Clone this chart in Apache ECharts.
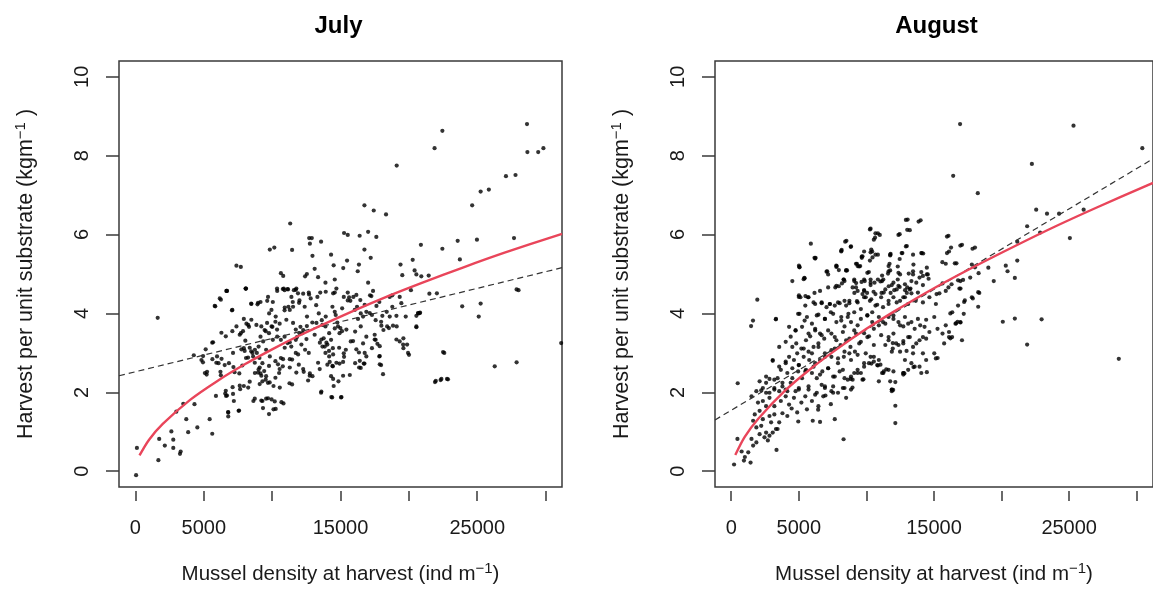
<!DOCTYPE html>
<html><head><meta charset="utf-8">
<script src="https://cdn.jsdelivr.net/npm/echarts@6/dist/echarts.min.js"></script>
<style>html,body{margin:0;padding:0;background:#fff}#c{width:1153px;height:592px}</style>
</head><body><div id="c"></div>
<script>
// ---------- data ----------
const panelTitles = ['July', 'August'];
const xTickValues = [0, 5000, 10000, 15000, 20000, 25000, 30000];
const xLabelValues = [0, 5000, 15000, 25000];
const yTickValues = [0, 2, 4, 6, 8, 10];

const julyPoints = [
[28640,8.80],[22450,8.63],[21880,8.19],[28670,8.09],[29460,8.09],[29840,8.19],[19110,7.75],[27100,7.48],[27800,7.51],[25250,7.09],[25850,7.14],[24630,6.74],[16750,6.74],[17430,6.61],[18330,6.51],[11320,6.28],[24980,5.87],[27690,5.91],[23570,5.84],[22450,5.64],[23730,5.37],[20880,5.74],[20280,5.36],[19390,5.24],[19520,4.97],[20420,5.09],[20550,4.99],[20910,4.94],[21450,4.96],[15260,6.04],[15530,5.99],[16400,5.97],[17020,6.07],[17620,5.94],[16750,5.62],[17210,5.41],[15480,5.34],[16350,5.24],[16260,5.07],[15200,5.15],[14500,5.22],[14310,5.49],[13580,5.82],[12710,5.91],[12900,5.91],[12760,5.77],[12950,5.46],[13110,5.13],[12540,5.00],[13360,4.92],[12410,4.94],[13900,4.78],[14580,4.86],[17020,4.78],[11460,5.61],[9830,5.62],[10160,5.67],[7390,5.21],[7710,5.18],[10640,5.02],[10810,4.95],[8060,4.63],[6650,4.57],[10370,4.57],[10780,4.62],[11130,4.62],[11590,4.59],[12680,4.53],[13520,4.53],[14580,4.53],[15530,4.53],[22050,4.51],[27880,4.61],
[50,-0.10],[110,0.59],[1630,3.89],[1680,0.28],[1740,0.82],[2150,0.65],[2630,1.01],[2770,0.80],[2770,0.59],[3260,0.44],[3310,0.50],[2990,1.51],[3500,1.71],[4320,1.70],[3720,1.32],[3860,0.99],[4530,1.11],[5430,1.32],[5620,0.95],[4940,2.76],[5080,2.49],[5210,2.45],[5620,3.26],[5840,4.18],[6250,4.35],[6680,4.57],[7060,4.08],[5970,2.91],[6080,2.74],[6300,2.85],[6250,2.43],[5890,1.91],[6570,1.97],[6630,1.91],[6790,1.49],[6790,1.39],[7200,1.78],[7550,1.53],[7110,2.13],[7660,2.08],[7930,2.16],[8250,2.12],[8630,1.78],[9290,1.78],[9560,1.84],[9960,1.82],[9770,1.45],[10100,1.57],[10830,1.72],[10560,2.12],[11270,2.23],[11460,2.20],[6840,2.74],[7170,2.64],[7250,2.51],[7600,2.48],[7820,2.68],[8090,2.87],[7930,3.12],[8040,3.31],[7710,3.50],[7930,3.86],[8250,3.71],[8470,4.25],[8930,4.23],[9150,4.29],[9640,4.32],[10050,4.29],[8090,4.63],
[8470,3.04],[8740,3.08],[8880,3.00],[9010,3.16],[8610,2.91],[9070,2.87],[9290,2.74],[9010,2.58],[8740,2.49],[9150,2.48],[9420,2.54],[9560,2.41],[9290,2.28],[9690,2.24],[10100,2.16],[10240,2.37],[10510,2.49],[10780,2.66],[10640,2.87],[10240,2.79],[9830,2.91],[9560,3.08],[9340,3.29],[9150,3.41],[9450,3.58],[9770,3.50],[9960,3.67],[10240,3.79],[10050,3.33],[10370,3.41],[10640,3.33],[10910,3.41],[11130,3.25],[11400,3.16],[11730,3.33],[12000,3.50],[12270,3.58],[12540,3.68],[12140,3.21],[12410,3.08],[12680,3.00],[11730,3.00],[11460,2.83],[11950,2.70],[12270,2.59],[12760,2.48],[12950,2.41],
[10910,4.08],[11190,4.17],[11510,4.29],[12000,4.33],[12270,4.50],[11730,4.60],[10910,4.59],[12820,4.38],[13220,4.21],[13410,4.00],[13630,3.83],[13900,3.67],[14170,3.50],[13770,3.37],[13490,3.26],[13680,3.16],[14040,3.21],[14310,3.33],[14440,3.12],[13900,3.00],[14170,2.91],[14580,3.62],[14770,3.77],[14990,3.63],[14930,3.50],[15120,4.13],[14580,4.04],[15530,4.33],[15940,4.42],[16210,4.17],[16480,4.00],[16890,4.04],[17300,3.96],[17570,3.83],[17970,3.79],[18380,4.04],[18790,4.17],[19110,3.67],[18540,3.63],[18140,3.58],[17570,3.33],[17700,3.23],[17300,3.12],[16890,3.41],[16480,3.67],[16070,3.54],[15750,3.29],[15390,3.08],[15260,2.90],[14930,2.73],[14440,2.66],[14040,2.70],[14310,2.41],[14500,2.16],[14850,2.28],[13580,1.99],[14390,1.87],[15040,1.87],[16480,2.62],[16750,2.73],[16890,2.91],[16350,3.01],[16070,2.74],[17840,2.91],[17970,2.69],[19330,3.29],[19600,3.12],[19870,3.21],[20010,2.95],[19600,3.37],[20690,4.00],[20820,4.02],[20550,3.65],[21500,4.50],[23900,4.18],[25250,4.25],[25110,3.92],[22590,3.00],[21910,2.26],[22320,2.31],[22860,2.33],[26280,2.66],[27880,2.76],[28020,4.59],[31140,3.25],[18790,4.46],[17160,4.46],[17840,4.29],[19330,4.42],[20150,4.59],
[6700,4.57],[8070,4.63],[5800,4.19],[6170,4.38],[7090,4.09],[8480,4.24],[8970,4.27],[9700,4.42],[10360,4.63],[10850,4.63],[11160,4.61],[11770,4.63],[11890,4.51],[11410,4.42],[9950,4.09],[9780,4.00],[10260,3.92],[10920,4.15],[11290,4.09],[11530,4.17],[11970,4.27],[12380,4.17],[12700,4.48],[13310,4.42],[13920,4.55],[14460,4.51],[14700,4.63],[15240,4.42],[15630,4.41],[15720,4.32],[16160,4.47],[16450,4.34],[17260,4.44],[17380,4.57],[18600,4.42],[19450,4.26],[17630,4.19],[16770,4.22],[16040,4.09],[16280,3.86],[16650,3.92],[17140,4.01],[18060,3.94],[18600,3.92],[19090,3.94],[19770,3.92],[20550,3.94],[20790,4.01],[20550,3.67],[18410,3.67],[17990,3.69],[18840,3.69],[14650,3.96],[14410,4.17],[14820,3.67],[13920,3.92],[13240,3.76],[13680,3.71],[12940,3.77],[12550,3.92],[12070,3.66],[11730,3.59],[11530,3.76],[11040,3.84],[10550,3.74],[10360,3.59],[10020,3.66],[9630,3.76],[9530,3.55],[9210,3.67],[8850,3.71],[8480,3.84],[8310,3.66],[8120,3.74],[7870,3.55],[7630,3.46],[7390,3.67],[7090,3.55],[6610,3.42],[6290,3.51],[5680,3.27],[5140,3.09],[4950,2.92],[5630,2.84],[5920,2.75],[6530,2.69],[6220,2.52],[5240,2.52],[4830,2.82],[4270,2.94],[7140,3.00],[7750,3.09],[7990,3.05],[8360,3.13],[8560,3.00],[8240,2.88],[8730,2.75],[9090,2.63],[8970,2.50],[9210,2.42],[9530,2.32],[9820,2.25],[9090,2.21],[8360,2.27],[7630,2.17],[7140,1.96],[6700,1.92],[6610,2.04],[8730,1.84],[9210,1.79],[9700,1.85],[10190,1.77],[10680,1.75],[10260,1.58],[9330,1.60],[6780,1.50],[7580,1.54],[9770,2.67],[10430,2.71],[10800,2.84],[10550,2.59],[11290,2.63],[11770,2.50],[12310,2.52],[12750,2.42],[12630,2.30],[13600,2.02],[11290,2.84],[11900,2.96],[10920,3.13],[11290,3.27],[11820,3.40],[12210,3.50],[12510,3.35],[13110,3.46],[13600,3.34],[13970,3.26],[13850,3.16],[14160,3.05],[14460,2.96],[14900,3.13],[15240,2.99],[14700,2.75],[14210,2.77],[15190,2.77],[13360,2.75],[13480,2.59],[14410,2.67],[15110,3.55],[15430,3.59],[15920,3.30],[16160,3.09],[16650,3.24],[16770,3.00],[16410,2.80],[16700,2.73],[16360,2.63],[17500,3.46],[17870,3.17],[17500,3.34],[19090,3.34],[19580,3.21],[19940,3.00],[17870,2.92],[17870,2.71],[14460,2.34],[15190,2.42],[15680,2.44],[14330,1.88],[15070,1.88],[22500,3.02],[21970,2.29],[22380,2.34],[22790,2.34],[20670,4.01],[18110,2.46]
];

const augustPoints = [
[16930,8.80],[25320,8.76],[30410,8.19],[22240,7.79],[16420,7.49],[18240,7.05],[22560,6.63],[23360,6.53],[24250,6.53],[26070,6.63],[21890,6.21],[22850,6.05],[25050,5.91],[21160,5.82],[20310,5.21],[20440,5.07],[20980,4.90],[21160,5.34],[19420,4.82],[16070,5.97],[16260,5.67],[17070,5.74],[18030,5.67],[15620,5.30],[16660,5.27],[17150,4.85],[18300,5.02],[19020,5.16],[18030,5.17],[18350,4.52],[16960,4.63],[16070,4.66],[15400,4.51],[14010,6.36],[13050,6.38],[13210,6.11],[12460,6.01],[10310,6.15],[10850,6.03],[10640,5.92],[8520,5.84],[8840,5.69],[8170,5.61],[10310,5.55],[10450,5.42],[10850,5.49],[9650,5.44],[11790,5.51],[12460,5.38],[12990,5.71],[14200,5.52],[5890,5.77],[6240,5.41],[5010,5.21],[5410,4.90],[7100,5.07],[7770,5.21],[7960,5.10],[8570,5.09],[9300,5.26],[9460,5.19],[10180,5.05],[11710,5.26],[11600,5.01],[12320,5.19],[13130,5.01],[13480,5.24],[14060,5.05],[14470,4.99],[14600,4.88],[14470,5.16],[8310,4.86],[7960,4.69],[9240,4.77],[9640,4.80],[10310,4.86],[10850,4.86],[11250,4.86],[12320,4.86],[11650,4.69],[12060,4.59],[12460,4.67],[12860,4.59],[13260,4.63],[12990,4.52],[11120,4.52],[11790,4.52],[10530,4.55],[9830,4.59],[10050,4.52],[9110,4.52],[6160,4.52],[5010,4.46],[5490,4.44],
[210,0.17],[480,2.23],[1470,3.68],[1610,3.82],[1930,4.35],[3300,3.85],[3350,0.54],[8310,0.81],[12140,1.22],[12140,1.66],[11980,2.06],[12140,2.26],[20090,3.79],[20980,3.87],[21890,3.21],[22960,3.85],[28670,2.85],[16880,4.63],[17280,4.33],[17230,4.29],[17870,4.38],[18270,4.54],[18270,4.17],[16740,3.79],[16960,3.77],[16210,4.00],[16340,3.40],[16210,3.37],[15270,2.87],[14470,2.51],[14060,2.49],[13480,2.64],[12810,2.48],[11250,2.49],[11470,2.58],[10850,2.68],[10370,2.73],[9780,2.33],[8970,2.12],[8840,2.34],[7370,1.70],[6970,1.92],[6030,1.28],[4960,1.26],[6430,1.56],
[12920,6.37],[13860,6.33],[10260,6.13],[10670,6.03],[10990,5.99],[13020,6.12],[12370,5.99],[10550,5.87],[8430,5.82],[8860,5.70],[8140,5.59],[6210,5.39],[9830,5.57],[10360,5.62],[9660,5.41],[10260,5.34],[11760,5.47],[12660,5.53],[12920,5.70],[14100,5.53],[15960,5.95],[16950,5.72],[15960,5.53],[16110,5.57],[16540,5.27],[17850,5.64],[15870,5.26],[5050,5.17],[5430,4.89],[7780,5.18],[8500,5.09],[9230,5.26],[9540,5.20],[11640,5.20],[11760,5.09],[12370,5.03],[11160,4.96],[11040,4.81],[10600,4.78],[10310,4.72],[9830,4.86],[9100,4.86],[8330,4.86],[8190,4.76],[7700,4.66],[7170,4.99],[8980,4.66],[9350,4.57],[9710,4.49],[9950,4.41],[10360,4.36],[10670,4.49],[11280,4.53],[11880,4.72],[12370,4.70],[13020,4.66],[13330,4.82],[13450,4.99],[13930,4.91],[14180,4.72],[14540,4.99],[13810,4.53],[13330,4.51],[12850,4.41],[12490,4.32],[12000,4.41],[11640,4.24],[11230,4.16],[10800,4.22],[10430,4.03],[10070,3.95],[9590,4.11],[9300,4.31],[8740,4.26],[8380,4.32],[8020,4.26],[7660,4.20],[7300,4.24],[7050,4.16],[6690,4.26],[6210,4.24],[5680,4.41],[5000,4.42],[5050,3.99],[5430,3.82],[5970,3.74],[6450,3.97],[6930,3.86],[7370,4.03],[7780,3.78],[8140,3.91],[8380,3.67],[8670,3.99],[8860,3.78],[9100,3.57],[9350,3.70],[9830,3.50],[10190,3.42],[10550,3.61],[10920,3.70],[11230,3.78],[11640,3.91],[12000,3.95],[12370,3.78],[12730,3.67],[13090,3.74],[13570,3.61],[13980,3.70],[14420,3.84],[15020,3.91],[15260,3.61],[14660,3.53],[14180,3.40],[13690,3.24],[13210,3.40],[12730,3.30],[12370,3.20],[11950,3.25],[11640,3.40],[11400,3.20],[11880,3.03],[12490,3.03],[12970,3.05],[13450,2.99],[12850,2.82],[13570,2.65],[14420,2.82],[15020,2.99],[14420,3.36],[15630,3.49],[16110,3.53],[16590,3.74],[16950,3.78],[17070,3.32],[16110,3.40],[15750,3.24],[15140,2.86],[15870,3.70],[17200,3.99],[17800,4.41],[16780,4.20],[16350,4.03],[15140,4.24],[14660,4.41],[15190,4.49],[15870,4.57],[16300,4.74],[15630,4.76],[16780,4.84],[17680,4.91],[4760,3.57],[4400,3.41],[4810,3.24],[5190,3.11],[5530,3.32],[5840,3.42],[6210,3.57],[6570,3.49],[6880,3.36],[6450,3.24],[6090,3.15],[5720,3.03],[7410,3.49],[7780,3.32],[7660,3.11],[8090,3.20],[8500,3.32],[8820,3.15],[9150,3.03],[9470,3.24],[8740,2.99],[8330,2.90],[7900,2.74],[7410,2.90],[6930,2.99],[6570,2.82],[6210,2.74],[5770,2.82],[5360,2.90],[5000,2.69],[4640,2.82],[4280,2.90],[4030,2.74],[3670,2.57],[3070,2.80],[4150,2.49],[4520,2.36],[4950,2.53],[5240,2.36],[5530,2.57],[5970,2.49],[6330,2.36],[6740,2.53],[7170,2.61],[7540,2.40],[8020,2.53],[8380,2.36],[8860,2.40],[9350,2.57],[9830,2.65],[9590,2.49],[10190,2.74],[10550,2.90],[10920,2.82],[9950,2.99],[8860,2.07],[8380,2.11],[7540,2.15],[6690,2.19],[5720,2.07],[5000,2.11],[11280,2.53],[11760,2.28],[10920,2.28],[11880,2.07],[12730,2.49],[16950,4.82],[17800,5.24],[16640,3.75],[2100,2.28],[2830,2.34],[2340,2.11],[2580,2.40],[3430,2.36],[3790,2.24],[3190,2.07],[4150,2.03],[2830,1.99],
[460,0.82],[770,0.50],[1010,0.36],[940,0.27],[1430,0.22],[1260,0.48],[1620,0.65],[1500,0.82],[1860,0.73],[2100,0.94],[2460,0.86],[2580,0.98],[2830,0.90],[2710,0.78],[3070,0.98],[3310,1.07],[2220,1.15],[1860,1.11],[1620,1.28],[2340,1.32],[1740,1.44],[2100,1.53],[2830,1.40],[3190,1.44],[3550,1.24],[3430,1.07],[2950,1.24],[2580,1.65],[2340,1.78],[1980,1.74],[2830,1.86],[3190,1.65],[3790,1.47],[4150,1.40],[4470,1.59],[4880,1.49],[6570,1.25],[4280,1.69],[4640,1.86],[5190,1.74],[5600,1.57],[5970,1.78],[6450,1.65],[6210,1.94],[6810,1.90],[5480,1.90],[4030,1.90],[3670,1.78],[7660,1.32],[7410,2.03],[7900,1.99],[8500,1.86],[6930,2.11],[4760,2.03],[4030,2.07],[3550,2.03],[3190,2.11],[2580,1.99],[2220,2.05],[1860,2.03],[1500,1.90],[8980,2.32],[9710,2.32],[9350,2.49],[10550,2.78],[11040,2.70],[11640,2.57],[11880,2.07],[12730,2.49],[13090,2.57],
[5050,5.18],[6160,5.41],[7050,5.06],[7800,5.20],[8500,5.09],[9350,5.20],[10070,5.03],[8140,5.57],[9710,5.45],[10430,5.57],[10670,5.49],[11760,5.49],[12610,5.53],[13450,5.49],[14060,5.53],[5360,4.87],[4520,4.82],[5720,4.41],[5120,4.41],[6570,4.57],[7170,4.66],[7780,4.70],[8380,4.82],[9100,4.82],[9230,4.66],[9830,4.57],[9880,4.82],[10310,4.78],[11160,4.82],[11400,4.61],[12000,4.78],[12240,4.61],[12850,4.74],[13210,4.61],[13690,4.78],[14180,4.95],[13450,5.07],[12490,4.99],[11640,5.07],
[5480,4.20],[6090,4.28],[6690,4.28],[7290,4.24],[7900,4.28],[8500,4.20],[8740,4.32],[9350,4.28],[9830,4.41],[10260,4.32],[10670,4.20],[11090,4.41],[11640,4.32],[12240,4.28],[12730,4.41],[13090,4.24],[13650,4.32],[14180,4.28],[4950,3.99],[5600,3.91],[6330,3.95],[6930,3.86],[7540,3.99],[8140,3.82],[8620,3.91],[9100,4.03],[9590,3.86],[10070,3.95],[10430,3.78],[10920,3.91],[11400,3.74],[12000,3.86],[12490,3.70],[12850,3.91],[13330,3.78],[13810,3.86],[14300,3.66],
[4280,3.66],[4760,3.57],[5240,3.66],[5720,3.49],[6210,3.61],[6690,3.45],[7170,3.57],[7660,3.40],[8260,3.53],[8740,3.36],[9230,3.49],[9590,3.28],[10070,3.40],[10550,3.20],[11090,3.45],[11640,3.32],[12000,3.49],[12200,3.24],[11950,3.11],[12730,3.24],[13090,3.40],[13450,3.15],[13930,3.32],[14180,2.99],[3550,3.15],[4030,3.28],[4520,3.15],[4880,2.99],[5360,3.11],[5970,2.99],[6450,3.15],[6930,2.90],[7410,3.07],[7900,2.86],[8380,3.03],[8860,2.82],[9350,2.95],[9830,2.74],[10310,2.90],[10800,2.69],[11160,2.49],[12000,2.53],[12730,2.45],[13330,2.74],[13930,2.65],[11880,2.03],
[3070,2.82],[3550,2.65],[4030,2.78],[4520,2.61],[5000,2.69],[5480,2.53],[6090,2.65],[6570,2.45],[7170,2.61],[7660,2.40],[8260,2.57],[8620,2.32],[9100,2.49],[2580,2.24],[3190,2.32],[3790,2.15],[4400,2.24],[5000,2.07],[5720,2.15],[6330,1.99],[6930,2.15],[7540,1.99],[8260,2.11],[3310,3.86]
];

// fitted curves (solid red) read at a few densities
const fitX = [300, 1000, 2000, 4000, 6000, 8000, 10000, 12000, 15000, 18000, 21000, 24000, 27000, 31200];
const julyFitY = [0.40, 0.80, 1.20, 1.81, 2.29, 2.71, 3.09, 3.44, 3.92, 4.37, 4.78, 5.17, 5.54, 6.02];
const augustFitY = [0.41, 0.87, 1.33, 2.05, 2.63, 3.14, 3.61, 4.04, 4.64, 5.19, 5.71, 6.21, 6.68, 7.31];
// linear fits (dashed)
const julyLinear = [[-1200, 2.42], [31200, 5.16]];
const augustLinear = [[-1200, 1.30], [31200, 7.92]];

// ---------- chart ----------
const FONT = '"Liberation Sans", Arial, Helvetica, sans-serif';
const TXT = '#1a1a1a';
const AX = '#3a3a3a';
const grids = [
  { left: 119, top: 61, width: 443, height: 431 },
  { left: 715, top: 61, width: 447, height: 431 }
];
const xName = 'Mussel density at harvest (ind m{sup|\u22121})';
const yName = 'Harvest per unit substrate (kgm{sup|\u22121} )';
function nameStyle(size) {
  return {
    fontSize: size, fontFamily: FONT, color: TXT, lineHeight: 26,
    rich: { sup: { fontSize: Math.round(size * 0.72), fontFamily: FONT, color: TXT, verticalAlign: 'top', lineHeight: 12 } }
  };
}
const plainNumber = v => String(v);

function xAxisFor(i) {
  return {
    type: 'value', gridIndex: i, min: -1200, max: 31200, offset: 4,
    axisLine: { show: false, onZero: false },
    axisTick: { show: true, inside: false, length: 10, lineStyle: { color: AX, width: 1.5 }, customValues: xTickValues },
    axisLabel: { customValues: xLabelValues, formatter: plainNumber, fontSize: 20, fontFamily: FONT, color: TXT, margin: 27 },
    splitLine: { show: false },
    name: xName, nameLocation: 'middle', nameGap: 70, nameTextStyle: nameStyle(20.5)
  };
}
function yAxisFor(i) {
  return {
    type: 'value', gridIndex: i, min: -0.4, max: 10.4,
    axisLine: { show: false, onZero: false },
    axisTick: { show: true, inside: false, length: 13, lineStyle: { color: AX, width: 1.5 }, customValues: yTickValues },
    axisLabel: { customValues: yTickValues, formatter: plainNumber, rotate: 90, fontSize: 20, fontFamily: FONT, color: TXT, margin: 27 },
    splitLine: { show: false },
    name: yName, nameLocation: 'middle', nameGap: 80, nameTextStyle: nameStyle(21.5)
  };
}
function panelSeries(i, pts, fitY, lin) {
  return [
    { type: 'scatter', xAxisIndex: i, yAxisIndex: i, data: pts, symbol: 'circle', symbolSize: 4.2,
      itemStyle: { color: '#000' }, silent: true },
    { type: 'line', xAxisIndex: i, yAxisIndex: i, data: lin, showSymbol: false, silent: true,
      lineStyle: { color: '#333', width: 1.2, type: [6, 4] }, z: 3 },
    { type: 'line', xAxisIndex: i, yAxisIndex: i, data: fitX.map((x, k) => [x, fitY[k]]), smooth: 0.3,
      showSymbol: false, silent: true, lineStyle: { color: '#E9455A', width: 2.4 }, z: 4 }
  ];
}

const chart = echarts.init(document.getElementById('c'), null, { renderer: 'canvas' });
chart.setOption({
  animation: false,
  backgroundColor: '#fff',
  grid: grids.map(g => Object.assign({ show: true, borderColor: AX, borderWidth: 1.5, containLabel: false }, g)),
  xAxis: [xAxisFor(0), xAxisFor(1)],
  yAxis: [yAxisFor(0), yAxisFor(1)],
  graphic: panelTitles.map((t, i) => ({
    type: 'text', x: grids[i].left + grids[i].width / 2 - 2, y: 14,
    style: { text: t, font: 'bold 24px ' + FONT, fill: '#000', align: 'center', verticalAlign: 'top' }
  })),
  series: [].concat(
    panelSeries(0, julyPoints, julyFitY, julyLinear),
    panelSeries(1, augustPoints, augustFitY, augustLinear)
  )
});
</script>
</body></html>
